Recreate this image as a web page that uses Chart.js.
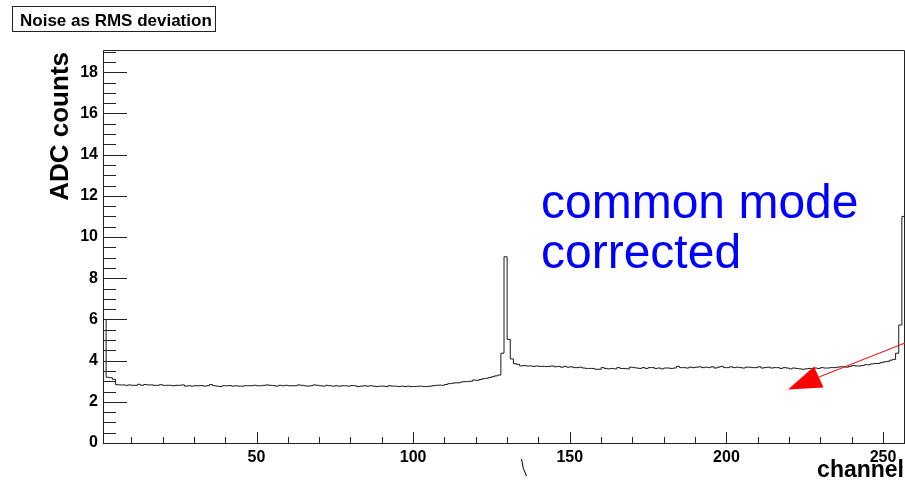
<!DOCTYPE html>
<html>
<head>
<meta charset="utf-8">
<script src="https://cdn.jsdelivr.net/npm/chart.js@4.4.1/dist/chart.umd.min.js"></script>
<style>
  html, body { margin: 0; padding: 0; background: #fff; }
  #wrap { width: 905px; height: 482px; }
</style>
</head>
<body>
<div id="wrap"><canvas id="noiseChart" width="905" height="482"></canvas></div>
<script>
// RMS noise per channel (ADC counts), channels 1..256
const noiseCh1to64 = [
    6.00, 3.19, 3.17, 3.09, 2.83, 2.82, 2.82, 2.80, 2.82, 2.80, 2.80, 2.85, 2.80, 2.84, 2.82, 2.82,
    2.80, 2.80, 2.83, 2.80, 2.80, 2.80, 2.78, 2.80, 2.80, 2.82, 2.76, 2.78, 2.76, 2.78, 2.78, 2.79,
    2.76, 2.78, 2.84, 2.78, 2.76, 2.74, 2.78, 2.78, 2.79, 2.76, 2.78, 2.76, 2.76, 2.78, 2.78, 2.78,
    2.80, 2.78, 2.78, 2.80, 2.82, 2.80, 2.79, 2.76, 2.80, 2.78, 2.80, 2.78, 2.78, 2.78, 2.82, 2.80
];
const noiseCh65to128 = [
    2.78, 2.76, 2.78, 2.82, 2.80, 2.78, 2.76, 2.80, 2.78, 2.76, 2.78, 2.76, 2.78, 2.78, 2.76, 2.79,
    2.78, 2.74, 2.76, 2.78, 2.76, 2.78, 2.76, 2.74, 2.76, 2.76, 2.74, 2.78, 2.76, 2.76, 2.74, 2.76,
    2.74, 2.76, 2.74, 2.74, 2.75, 2.76, 2.74, 2.74, 2.76, 2.78, 2.80, 2.81, 2.80, 2.84, 2.88, 2.90,
    2.92, 2.92, 2.96, 2.98, 2.98, 3.00, 3.06, 3.04, 3.08, 3.12, 3.14, 3.18, 3.22, 3.26, 3.30, 4.36
];
const noiseCh129to192 = [
    9.04, 5.03, 4.08, 3.85, 3.82, 3.74, 3.76, 3.74, 3.74, 3.72, 3.74, 3.72, 3.72, 3.71, 3.72, 3.74,
    3.70, 3.72, 3.68, 3.72, 3.68, 3.70, 3.66, 3.66, 3.68, 3.64, 3.62, 3.62, 3.62, 3.58, 3.58, 3.66,
    3.62, 3.60, 3.62, 3.60, 3.66, 3.62, 3.62, 3.60, 3.68, 3.66, 3.64, 3.62, 3.66, 3.62, 3.66, 3.66,
    3.62, 3.64, 3.60, 3.64, 3.64, 3.62, 3.64, 3.72, 3.66, 3.66, 3.64, 3.68, 3.66, 3.68, 3.70, 3.66
];
const noiseCh193to256 = [
    3.68, 3.66, 3.70, 3.64, 3.68, 3.72, 3.66, 3.66, 3.70, 3.66, 3.68, 3.66, 3.64, 3.68, 3.68, 3.66,
    3.66, 3.70, 3.64, 3.66, 3.68, 3.64, 3.66, 3.66, 3.62, 3.66, 3.64, 3.60, 3.64, 3.62, 3.60, 3.58,
    3.60, 3.62, 3.60, 3.64, 3.62, 3.66, 3.64, 3.64, 3.66, 3.66, 3.68, 3.70, 3.70, 3.68, 3.72, 3.76,
    3.74, 3.74, 3.76, 3.80, 3.80, 3.84, 3.86, 3.86, 3.90, 3.94, 3.96, 4.02, 4.06, 4.36, 5.73, 11.0
];
const noise = [...noiseCh1to64, ...noiseCh65to128, ...noiseCh129to192, ...noiseCh193to256];
const firstChannel = 1;

// axis ticks
const xMajorTicks = [50, 100, 150, 200, 250];
const xMinorTicks = [10, 20, 30, 40, 60, 70, 80, 90, 110, 120, 130, 140, 160, 170, 180, 190,
                     210, 220, 230, 240];
const yMajorTicks = [0, 2, 4, 6, 8, 10, 12, 14, 16, 18];
const yMinorTicks = [0.5, 1, 1.5, 2.5, 3, 3.5, 4.5, 5, 5.5, 6.5, 7, 7.5, 8.5, 9, 9.5, 10.5, 11, 11.5,
                     12.5, 13, 13.5, 14.5, 15, 15.5, 16.5, 17, 17.5, 18.5, 19];

const FONT = '"Liberation Sans", Arial, Helvetica, sans-serif';

// histogram points: one per bin start, plus the right edge of the last bin
const points = noise.map((v, i) => ({ x: firstChannel + i, y: v }));
points.push({ x: firstChannel + noise.length, y: noise[noise.length - 1] });

// ROOT-like frame, inside ticks and the annotations
const rootDecor = {
    id: 'rootDecor',
    afterDatasetsDraw(chart) {
        const { ctx, chartArea: a, scales: { x, y } } = chart;
        ctx.save();
        ctx.strokeStyle = '#222';
        ctx.lineWidth = 1;

        // frame
        ctx.beginPath();
        ctx.moveTo(a.left + 0.5, a.top + 0.5);
        ctx.lineTo(904.5, a.top + 0.5);
        ctx.lineTo(904.5, a.bottom + 0.5);
        ctx.moveTo(a.left + 0.5, a.top + 0.5);
        ctx.lineTo(a.left + 0.5, a.bottom + 0.5);
        ctx.lineTo(a.right, a.bottom + 0.5);
        ctx.stroke();

        // ticks
        ctx.beginPath();
        yMajorTicks.forEach(v => {
            const py = Math.round(y.getPixelForValue(v)) + 0.5;
            ctx.moveTo(a.left, py); ctx.lineTo(a.left + 24, py);
        });
        yMinorTicks.forEach(v => {
            const py = Math.round(y.getPixelForValue(v)) + 0.5;
            ctx.moveTo(a.left, py); ctx.lineTo(a.left + 13, py);
        });
        xMajorTicks.forEach(v => {
            const px = Math.round(x.getPixelForValue(v)) + 0.5;
            ctx.moveTo(px, a.bottom); ctx.lineTo(px, a.bottom - 11);
        });
        xMinorTicks.forEach(v => {
            const px = Math.round(x.getPixelForValue(v)) + 0.5;
            ctx.moveTo(px, a.bottom); ctx.lineTo(px, a.bottom - 6);
        });
        ctx.stroke();

        // title box
        ctx.strokeRect(12.5, 6.5, 203, 25);
        ctx.fillStyle = '#000';
        ctx.font = 'bold 17px ' + FONT;
        ctx.textAlign = 'left';
        ctx.textBaseline = 'alphabetic';
        ctx.fillText('Noise as RMS deviation', 20, 26);

        // axis titles
        ctx.font = 'bold 23px ' + FONT;
        ctx.textAlign = 'right';
        ctx.fillText('channel', 904, 477);

        ctx.save();
        ctx.translate(68, 52);
        ctx.rotate(-Math.PI / 2);
        ctx.font = 'bold 26px ' + FONT;
        ctx.textAlign = 'right';
        ctx.fillText('ADC counts', 0, 0);
        ctx.restore();

        // blue note
        ctx.fillStyle = '#0000ff';
        ctx.font = '48px ' + FONT;
        ctx.textAlign = 'left';
        ctx.fillText('common mode', 541, 218);
        ctx.fillText('corrected', 541, 268);

        // red arrow
        ctx.strokeStyle = '#ff0000';
        ctx.fillStyle = '#ff0000';
        ctx.beginPath();
        ctx.moveTo(905, 343);
        ctx.lineTo(819, 377);
        ctx.stroke();
        ctx.beginPath();
        ctx.moveTo(788, 389.5);
        ctx.lineTo(814, 366.5);
        ctx.lineTo(823.5, 387.5);
        ctx.closePath();
        ctx.fill();

        // stray pen marks
        ctx.strokeStyle = '#000';
        ctx.beginPath();
        ctx.moveTo(521.5, 459);
        ctx.quadraticCurveTo(522.5, 469, 526.5, 476);
        ctx.moveTo(902, 466);
        ctx.lineTo(900, 477);
        ctx.stroke();
        ctx.restore();
    }
};

const ctx = document.getElementById('noiseChart').getContext('2d');
new Chart(ctx, {
    type: 'line',
    data: {
        datasets: [{
            label: 'Noise',
            data: points,
            stepped: true,
            borderColor: '#1a1a1a',
            borderWidth: 1,
            pointRadius: 0,
            fill: false,
        }],
    },
    options: {
        responsive: false,
        animation: false,
        layout: { padding: { top: 50, left: 0, right: 0, bottom: 0 } },
        plugins: {
            legend: { display: false },
            tooltip: { enabled: false },
        },
        scales: {
            x: {
                type: 'linear',
                min: 1,
                max: 257,
                grid: { display: false, drawTicks: false },
                border: { display: false },
                afterBuildTicks: s => { s.ticks = xMajorTicks.map(v => ({ value: v })); },
                afterFit: s => { s.height = 39; },
                ticks: {
                    padding: 5,
                    maxRotation: 0,
                    autoSkip: false,
                    color: '#000',
                    font: { family: FONT, size: 16, weight: 'bold' },
                },
            },
            y: {
                min: 0,
                max: 19.08,
                grid: { display: false, drawTicks: false },
                border: { display: false },
                afterBuildTicks: s => { s.ticks = yMajorTicks.map(v => ({ value: v })); },
                afterFit: s => { s.width = 103; },
                ticks: {
                    padding: 5,
                    autoSkip: false,
                    color: '#000',
                    font: { family: FONT, size: 16, weight: 'bold' },
                },
            },
        },
    },
    plugins: [rootDecor],
});
</script>
</body>
</html>
